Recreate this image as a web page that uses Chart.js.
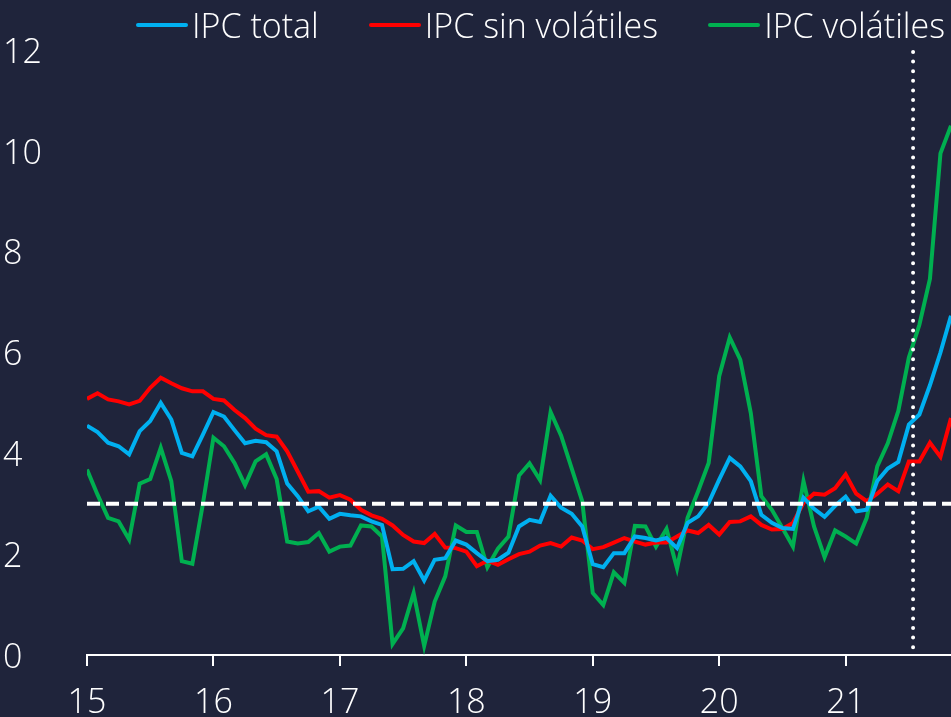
<!DOCTYPE html>
<html>
<head>
<meta charset="utf-8">
<script src="https://cdn.jsdelivr.net/npm/chart.js@4.4.1/dist/chart.umd.min.js"></script>
<style>
  html, body { margin: 0; padding: 0; background: #1f243b; }
  #wrap { position: relative; width: 951px; height: 717px; }
  #legend { position: absolute; top: 2px; left: 136px; display: flex; gap: 50px; align-items: center;
            font-family: 'Open Sans', sans-serif; font-weight: 300; font-size: 34px; color: #fff; white-space: nowrap; }
  #legend .item { display: flex; align-items: center; }
  #legend .swatch { width: 52px; height: 4px; border-radius: 2px; margin-right: 4px; }
</style>
</head>
<body>
<div id="wrap">
  <canvas id="ipcChart"></canvas>
  <div id="legend"></div>
</div>
<script>
  // months from Jan 2015 (index 0) to Nov 2021 (index 82)
  const meta = 3;           // dashed target line
  const cutMonth = 78.4;    // dotted vertical line
  const yearTicks = ['15', '16', '17', '18', '19', '20', '21'];

  const ipcTotal = [
    4.55, 4.42, 4.21, 4.14, 3.98, 4.44, 4.64, 5.0, 4.67, 4.01, 3.94, 4.37,
    4.82, 4.73, 4.46, 4.2, 4.25, 4.22, 4.04, 3.4, 3.15, 2.85, 2.94, 2.7,
    2.8, 2.77, 2.75, 2.65, 2.58, 1.7, 1.71, 1.86, 1.48, 1.89, 1.92, 2.27,
    2.19, 2.02, 1.86, 1.89, 2.03, 2.55, 2.68, 2.64, 3.16, 2.92, 2.8, 2.55,
    1.8, 1.74, 2.02, 2.02, 2.35, 2.32, 2.27, 2.32, 2.12, 2.62, 2.75, 3.02,
    3.48, 3.91, 3.74, 3.45, 2.78, 2.62, 2.52, 2.5, 3.12, 2.9, 2.74, 2.96,
    3.14, 2.85, 2.88, 3.45, 3.7, 3.83, 4.57, 4.77, 5.35, 6.0, 6.73
  ];
  const ipcSinVolatiles = [
    5.08, 5.19, 5.07, 5.03, 4.97, 5.04, 5.3, 5.5, 5.39, 5.29, 5.23, 5.23,
    5.08, 5.05, 4.86, 4.7, 4.49, 4.36, 4.33, 4.04, 3.64, 3.24, 3.25, 3.12,
    3.17, 3.08, 2.88, 2.77, 2.7, 2.57, 2.38, 2.25, 2.22, 2.4, 2.13, 2.12,
    2.05, 1.76, 1.87, 1.79, 1.9, 2.0, 2.05, 2.17, 2.22, 2.15, 2.33, 2.27,
    2.1, 2.14, 2.23, 2.32, 2.25, 2.19, 2.23, 2.23, 2.35, 2.47, 2.42, 2.58,
    2.39, 2.64, 2.65, 2.75, 2.58, 2.49, 2.5, 2.62, 3.02, 3.2, 3.18, 3.31,
    3.58, 3.2, 3.05, 3.2, 3.38, 3.25, 3.84, 3.84, 4.21, 3.93, 4.7
  ];
  const ipcVolatiles = [
    3.68, 3.18, 2.72, 2.65, 2.29, 3.4, 3.49, 4.11, 3.45, 1.86, 1.81, 3.0,
    4.31, 4.14, 3.81, 3.37, 3.84, 3.98, 3.49, 2.25, 2.21, 2.24, 2.42, 2.05,
    2.15, 2.17, 2.57, 2.55, 2.35, 0.22, 0.53, 1.23, 0.18, 1.06, 1.56, 2.57,
    2.44, 2.44, 1.74, 2.11, 2.35, 3.56, 3.8, 3.47, 4.82, 4.35, 3.7, 3.05,
    1.23, 0.99, 1.64, 1.43, 2.56, 2.55, 2.15, 2.5, 1.72, 2.72, 3.25, 3.81,
    5.53, 6.3, 5.86, 4.8, 3.15, 2.88, 2.52, 2.15, 3.45, 2.55, 1.94, 2.47,
    2.35, 2.21, 2.72, 3.74, 4.2, 4.84, 5.9, 6.55, 7.46, 9.95, 10.5
  ];

  const fontFamily = "'Open Sans', sans-serif";
  const toPoints = arr => arr.map((v, i) => ({ x: i, y: v }));

  const series = [
    { label: 'IPC total', data: ipcTotal, color: '#00b0f0' },
    { label: 'IPC sin volátiles', data: ipcSinVolatiles, color: '#ff0000' },
    { label: 'IPC volátiles', data: ipcVolatiles, color: '#00b050' }
  ];

  // target line + cut line
  const refLines = {
    id: 'refLines',
    afterDatasetsDraw(chart) {
      const { ctx, chartArea, scales: { x, y } } = chart;
      ctx.save();
      ctx.strokeStyle = '#ffffff';
      ctx.lineWidth = 4;
      ctx.setLineDash([13, 6]);
      const yy = y.getPixelForValue(meta);
      ctx.beginPath();
      ctx.moveTo(chartArea.left, yy);
      ctx.lineTo(chartArea.right, yy);
      ctx.stroke();

      ctx.lineCap = 'round';
      ctx.setLineDash([0, 9.6]);
      const xx = x.getPixelForValue(cutMonth);
      ctx.beginPath();
      ctx.moveTo(xx, y.getPixelForValue(12) + 2);
      ctx.lineTo(xx, y.getPixelForValue(0));
      ctx.stroke();
      ctx.restore();
    }
  };

  const chart = new Chart(document.getElementById('ipcChart'), {
    type: 'line',
    data: {
      datasets: series.map(s => ({
        label: s.label,
        data: toPoints(s.data),
        borderColor: s.color,
        backgroundColor: s.color,
        borderWidth: 4,
        pointRadius: 0,
        tension: 0,
        fill: false
      }))
    },
    options: {
      responsive: true,
      maintainAspectRatio: false,
      animation: false,
      layout: { padding: { left: 3, right: 0, top: 50, bottom: 0 } },
      plugins: {
        legend: { display: false },
        tooltip: { enabled: false }
      },
      scales: {
        x: {
          type: 'linear',
          min: 0,
          max: 82,
          ticks: {
            stepSize: 12,
            includeBounds: false,
            autoSkip: false,
            maxRotation: 0,
            color: '#ffffff',
            padding: 17,
            font: { family: fontFamily, size: 34, weight: '300' },
            callback: v => yearTicks[v / 12]
          },
          grid: { drawOnChartArea: false, drawTicks: true, tickLength: 11, color: '#ffffff', lineWidth: 2 },
          border: { display: true, color: '#ffffff', width: 2 },
          afterFit: s => { s.height = 62; }
        },
        y: {
          min: 0,
          max: 12,
          ticks: {
            stepSize: 2,
            color: '#ffffff',
            crossAlign: 'far',
            labelOffset: 3,
            font: { family: fontFamily, size: 34, weight: '300' }
          },
          grid: { display: false },
          border: { display: false },
          afterFit: s => { s.width = 84; }
        }
      }
    },
    plugins: [refLines]
  });

  // html legend
  const legendEl = document.getElementById('legend');
  chart.data.datasets.forEach(ds => {
    const item = document.createElement('div');
    item.className = 'item';
    const sw = document.createElement('span');
    sw.className = 'swatch';
    sw.style.background = ds.borderColor;
    const txt = document.createElement('span');
    txt.textContent = ds.label;
    item.appendChild(sw);
    item.appendChild(txt);
    legendEl.appendChild(item);
  });
</script>
</body>
</html>
